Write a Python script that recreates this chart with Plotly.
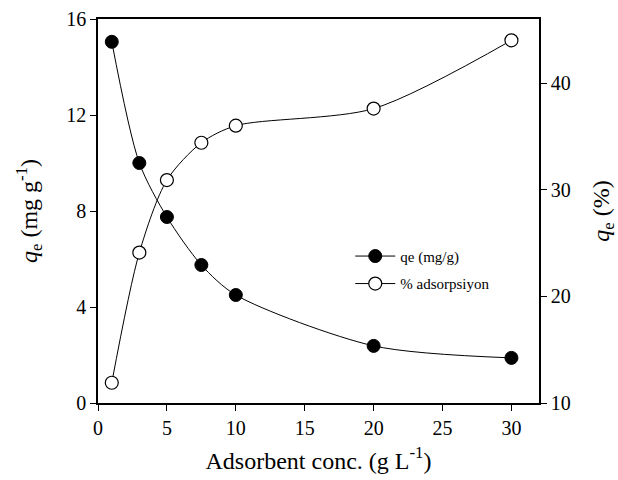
import plotly.graph_objects as go

# Adsorbent dose (g/L)
dose = [1, 3, 5, 7.5, 10, 20, 30]
# Adsorption capacity qe (mg/g)
qe_mg_g = [15.05, 10.0, 7.75, 5.75, 4.5, 2.38, 1.88]
# Removal percentage (%)
adsorption_pct = [11.9, 24.1, 30.9, 34.4, 36.0, 37.6, 44.0]

FONT = "Liberation Serif"

fig = go.Figure()
fig.add_trace(go.Scatter(
    x=dose, y=qe_mg_g, name="qe (mg/g)", mode="lines+markers",
    legendgroup="qe",
    line=dict(color="black", width=1, shape="spline", smoothing=0.8),
    marker=dict(symbol="circle", size=13, color="black",
                line=dict(color="black", width=1)),
))
fig.add_trace(go.Scatter(
    x=dose, y=adsorption_pct, name="% adsorpsiyon", mode="lines+markers",
    legendgroup="pct", yaxis="y2",
    line=dict(color="black", width=1, shape="spline", smoothing=0.8),
    marker=dict(symbol="circle", size=13, color="white",
                line=dict(color="black", width=1.2)),
))

axis_common = dict(
    showgrid=False, zeroline=False, showline=True, linecolor="black",
    linewidth=1.5, ticks="outside", ticklen=6, tickcolor="black",
    automargin=False,
    tickfont=dict(family=FONT, size=20, color="black"),
)

fig.update_layout(
    width=618, height=480,
    margin=dict(l=98, r=79, t=19, b=77),
    paper_bgcolor="white", plot_bgcolor="white",
    font=dict(family=FONT, color="black"),
    xaxis=dict(range=[0, 32], tickvals=[0, 5, 10, 15, 20, 25, 30],
               mirror=True,
               title=dict(text="Adsorbent conc. (g L<sup>-1</sup>)",
                          font=dict(family=FONT, size=24), standoff=14),
               **axis_common),
    yaxis=dict(range=[0, 16], tickvals=[0, 4, 8, 12, 16],
               title=dict(text="<i>q</i><sub>e</sub> (mg g<sup>-1</sup>)",
                          font=dict(family=FONT, size=24), standoff=22),
               **axis_common),
    yaxis2=dict(range=[10, 46], tickvals=[10, 20, 30, 40],
                overlaying="y", side="right",
                title=dict(text="<i>q</i><sub>e</sub> (%)",
                           font=dict(family=FONT, size=24), standoff=22),
                **axis_common),
    legend=dict(x=0.572, y=0.425, xanchor="left", yanchor="top",
                bgcolor="rgba(0,0,0,0)", traceorder="grouped",
                font=dict(family=FONT, size=15, color="black"),
                itemwidth=40, tracegroupgap=5),
)

fig.write_html("out.html")
